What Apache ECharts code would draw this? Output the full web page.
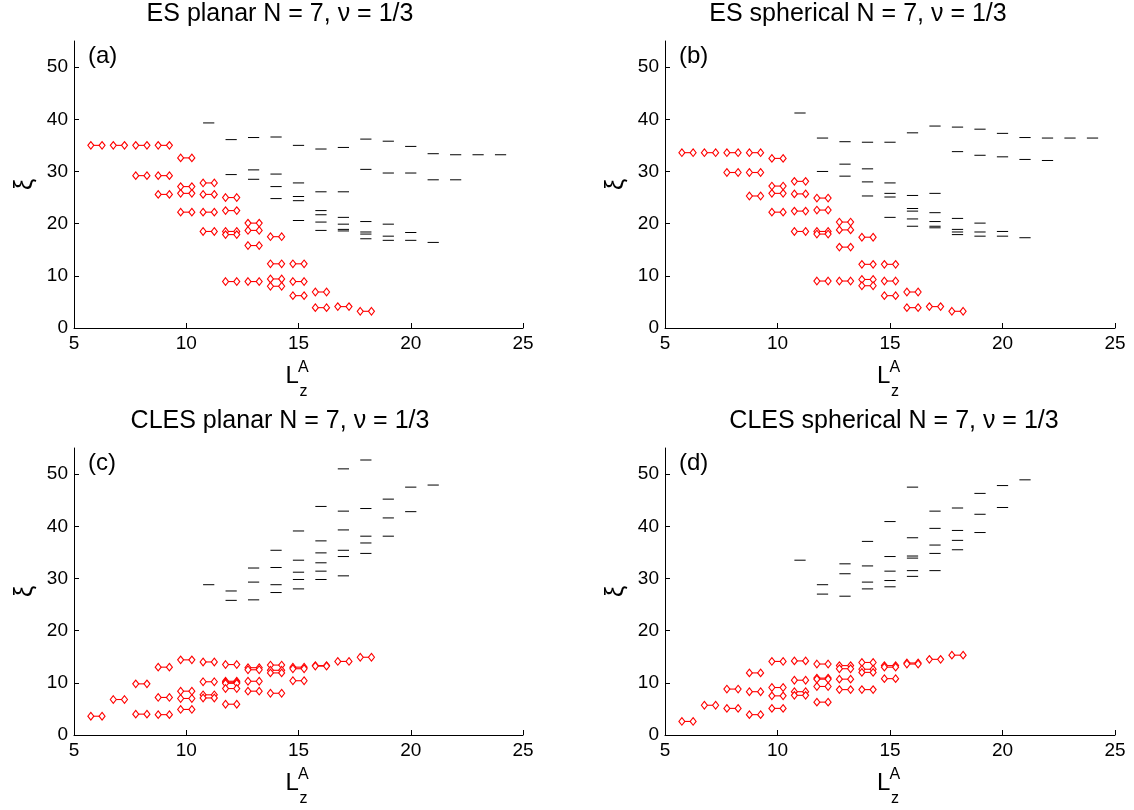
<!DOCTYPE html>
<html>
<head>
<meta charset="utf-8">
<script src="https://cdn.jsdelivr.net/npm/echarts@6/dist/echarts.min.js"></script>
<style>
html,body{margin:0;padding:0;background:#fff;}
#chart{width:1134px;height:810px;}
</style>
</head>
<body>
<div id="chart"></div>
<script>
// ---------- data: [L_z^A, xi] ----------
const esPlanarRed = [[6,35.0],[7,35.0],[8,35.0],[9,35.0],[10,32.6],[8,29.2],[9,29.2],
  [11,27.8],[10,27.1],[10,25.8],[9,25.6],[11,25.6],[12,25.0],[10,22.2],[11,22.2],[12,22.5],
  [13,20.1],[13,18.7],[11,18.5],[12,18.5],[12,17.9],[14,17.5],[13,15.8],[14,12.3],[15,12.3],
  [12,8.9],[13,8.9],[15,8.9],[14,9.4],[14,8.0],[15,6.2],[16,6.9],[16,3.9],[17,4.1],[18,3.2]];
const esPlanarBlack = [[11,39.3],[12,36.1],[12,29.4],[13,36.5],[13,30.3],[13,28.5],
  [14,36.6],[14,29.5],[14,27.1],[14,24.8],[15,35.0],[15,27.8],[15,25.2],[15,24.4],[15,20.6],
  [16,34.3],[16,26.1],[16,22.5],[16,21.7],[16,20.3],[16,18.7],
  [17,34.6],[17,26.1],[17,21.2],[17,19.9],[17,18.9],[17,18.6],
  [18,36.2],[18,30.4],[18,20.4],[18,18.4],[18,18.0],[18,17.1],
  [19,35.8],[19,29.7],[19,19.9],[19,17.6],[19,16.8],[20,34.8],[20,29.7],[20,18.3],[20,16.8],
  [21,33.4],[21,28.4],[21,16.4],[22,33.2],[22,28.4],[23,33.2],[24,33.2]];
const esSphericalRed = [[6,33.6],[7,33.6],[8,33.6],[9,33.6],[10,32.5],[8,29.8],[9,29.8],
  [11,28.1],[10,27.2],[10,25.8],[11,25.7],[9,25.3],[12,24.9],[10,22.2],[11,22.4],[12,22.6],
  [13,20.3],[13,18.8],[11,18.5],[12,18.5],[12,18.0],[14,17.4],[13,15.5],[14,12.2],[15,12.2],
  [12,9.0],[13,9.0],[15,9.0],[14,9.3],[14,8.1],[15,6.2],[16,6.9],[16,3.9],[17,4.1],[18,3.2]];
const esSphericalBlack = [[11,41.2],[12,36.4],[12,30.0],[13,35.7],[13,31.4],[13,29.1],
  [14,35.6],[14,30.5],[14,28.0],[14,25.3],[15,35.6],[15,27.8],[15,25.8],[15,25.1],[15,21.2],
  [16,37.4],[16,25.4],[16,22.9],[16,22.4],[16,20.9],[16,19.5],
  [17,38.7],[17,25.8],[17,22.1],[17,20.4],[17,19.5],[17,19.2],
  [18,38.5],[18,33.8],[18,21.0],[18,18.9],[18,18.4],[18,17.9],
  [19,38.1],[19,33.1],[19,20.1],[19,18.4],[19,17.6],[20,37.3],[20,32.8],[20,18.5],[20,17.6],
  [21,36.5],[21,32.3],[21,17.3],[22,36.4],[22,32.1],[23,36.4],[24,36.4]];
const clesPlanarRed = [[6,3.6],[7,6.8],[8,9.8],[8,4.0],[9,13.0],[9,7.2],[9,3.9],
  [10,14.4],[10,8.4],[10,7.0],[10,4.9],[11,14.0],[11,10.2],[11,7.7],[11,7.1],
  [12,13.5],[12,10.3],[12,10.1],[12,9.9],[12,8.9],[12,5.9],[13,12.9],[13,12.5],[13,10.3],[13,8.4],
  [14,13.4],[14,12.4],[14,11.9],[14,8.0],[15,13.0],[15,12.7],[15,10.4],[16,13.3],[16,13.2],
  [17,14.1],[18,14.9]];
const clesPlanarBlack = [[11,28.8],[12,27.6],[12,25.8],[13,32.0],[13,29.3],[13,25.9],
  [14,35.4],[14,32.1],[14,28.8],[14,27.3],[15,39.1],[15,33.5],[15,31.2],[15,29.8],[15,28.0],
  [16,43.8],[16,37.2],[16,34.9],[16,33.0],[16,31.4],[16,29.8],
  [17,51.0],[17,42.9],[17,39.3],[17,35.4],[17,34.2],[17,30.5],
  [18,52.7],[18,43.4],[18,38.1],[18,36.8],[18,34.8],[19,45.2],[19,41.6],[19,38.1],
  [20,47.5],[20,42.8],[21,47.9]];
const clesSphericalRed = [[6,2.6],[7,5.7],[8,8.8],[8,5.1],[9,11.9],[9,8.3],[9,3.9],
  [10,14.1],[10,9.1],[10,7.5],[10,5.1],[11,14.2],[11,10.5],[11,8.3],[11,7.6],
  [12,13.6],[12,10.9],[12,10.7],[12,9.3],[12,6.3],[13,13.3],[13,12.7],[13,10.7],[13,8.7],
  [14,13.9],[14,12.6],[14,12.0],[14,8.7],[15,13.3],[15,13.0],[15,10.8],[16,13.8],[16,13.6],
  [17,14.5],[18,15.3]];
const clesSphericalBlack = [[11,33.5],[12,28.8],[12,27.0],[13,32.8],[13,30.9],[13,26.6],
  [14,37.1],[14,32.4],[14,29.3],[14,28.0],[15,40.9],[15,34.2],[15,31.4],[15,29.6],[15,28.4],
  [16,47.5],[16,37.8],[16,34.3],[16,33.9],[16,31.5],[16,30.4],
  [17,42.9],[17,39.6],[17,36.4],[17,34.8],[17,31.5],[18,43.5],[18,39.2],[18,37.3],[18,35.5],
  [19,46.3],[19,42.3],[19,38.8],[20,47.8],[20,43.6],[21,48.9]];

const panelTitles = ['ES planar N = 7, \u03bd = 1/3', 'ES spherical N = 7, \u03bd = 1/3',
  'CLES planar N = 7, \u03bd = 1/3', 'CLES spherical N = 7, \u03bd = 1/3'];
const panelTags = ['(a)', '(b)', '(c)', '(d)'];
const yTickValues = [0, 10, 20, 30, 40, 50];
const xTickValues = [5, 10, 15, 20, 25];

// ---------- layout ----------
const FONT = "'Liberation Sans', Arial, sans-serif";
const grids = [
  {left: 74, top: 41, width: 449, height: 287},
  {left: 665, top: 41, width: 450, height: 287},
  {left: 74, top: 448, width: 449, height: 287},
  {left: 665, top: 448, width: 450, height: 287}
];
const titleCenters = [280, 858, 280, 894];
const HALF = 0.25;

const chart = echarts.init(document.getElementById('chart'), null, {renderer: 'canvas'});

function diamond(p, color) {
  return {type: 'polygon',
    shape: {points: [[p[0], p[1] - 3.8], [p[0] + 3, p[1]], [p[0], p[1] + 3.8], [p[0] - 3, p[1]]]},
    style: {fill: '#fff', stroke: color, lineWidth: 1.1}};
}
function redPair(params, api) {
  const L = api.value(0), v = api.value(1);
  const a = api.coord([L - HALF, v]), b = api.coord([L + HALF, v]);
  return {type: 'group', children: [
    {type: 'line', shape: {x1: a[0], y1: a[1], x2: b[0], y2: b[1]}, style: {stroke: '#ff0000', lineWidth: 1.1}},
    diamond(a, '#ff0000'), diamond(b, '#ff0000')
  ]};
}
function blackDash(params, api) {
  const L = api.value(0), v = api.value(1);
  const a = api.coord([L - HALF, v]), b = api.coord([L + HALF, v]);
  return {type: 'line', shape: {x1: a[0], y1: a[1], x2: b[0], y2: b[1]}, style: {stroke: '#000', lineWidth: 1}};
}

const reds = [esPlanarRed, esSphericalRed, clesPlanarRed, clesSphericalRed];
const blacks = [esPlanarBlack, esSphericalBlack, clesPlanarBlack, clesSphericalBlack];

const xAxis = [], yAxis = [], series = [], graphic = [];
grids.forEach((g, i) => {
  xAxis.push({type: 'value', gridIndex: i, min: 5, max: 25, interval: 5,
    axisLine: {lineStyle: {color: '#000', width: 1}},
    axisTick: {inside: true, length: 5, lineStyle: {color: '#000'}, customValues: xTickValues},
    axisLabel: {color: '#000', fontSize: 19, fontFamily: FONT, margin: 6, customValues: xTickValues},
    splitLine: {show: false}});
  yAxis.push({type: 'value', gridIndex: i, min: 0, max: 55,
    name: '\u03be', nameLocation: 'middle', nameRotate: 90, nameGap: 36,
    nameTextStyle: {color: '#000', fontSize: 25, fontFamily: FONT},
    axisLine: {lineStyle: {color: '#000', width: 1}},
    axisTick: {inside: true, length: 5, lineStyle: {color: '#000'}, customValues: yTickValues},
    axisLabel: {color: '#000', fontSize: 19, fontFamily: FONT, margin: 6, customValues: yTickValues},
    splitLine: {show: false}});
  series.push({type: 'custom', xAxisIndex: i, yAxisIndex: i, data: blacks[i], renderItem: blackDash,
    encode: {x: 0, y: 1}, silent: true});
  series.push({type: 'custom', xAxisIndex: i, yAxisIndex: i, data: reds[i], renderItem: redPair,
    encode: {x: 0, y: 1}, silent: true});
  const cx = g.left + g.width / 2, bottom = g.top + g.height;
  graphic.push({type: 'text', x: titleCenters[i], y: g.top - 27,
    style: {text: panelTitles[i], align: 'center', verticalAlign: 'middle', fontSize: 25, fontFamily: FONT, fill: '#000'}});
  graphic.push({type: 'text', x: g.left + 14, y: g.top + 15,
    style: {text: panelTags[i], align: 'left', verticalAlign: 'middle', fontSize: 24, fontFamily: FONT, fill: '#000'}});
  graphic.push({type: 'text', x: cx - 13, y: bottom + 48,
    style: {text: 'L', align: 'left', verticalAlign: 'middle', fontSize: 24, fontFamily: FONT, fill: '#000'}});
  graphic.push({type: 'text', x: cx - 0.5, y: bottom + 40,
    style: {text: 'A', align: 'left', verticalAlign: 'middle', fontSize: 16, fontFamily: FONT, fill: '#000'}});
  graphic.push({type: 'text', x: cx + 1, y: bottom + 64,
    style: {text: 'z', align: 'left', verticalAlign: 'middle', fontSize: 16, fontFamily: FONT, fill: '#000'}});
});

chart.setOption({
  animation: false,
  backgroundColor: '#fff',
  grid: grids,
  xAxis: xAxis,
  yAxis: yAxis,
  series: series,
  graphic: graphic
});
</script>
</body>
</html>
